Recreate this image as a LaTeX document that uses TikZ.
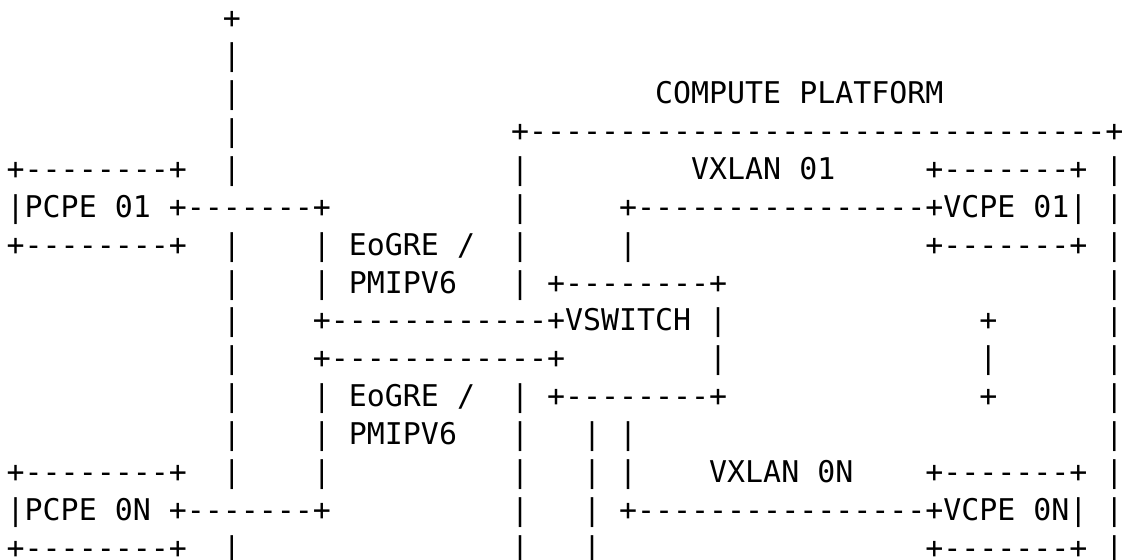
\documentclass[tikz,border=0pt]{standalone}
\usepackage{fontspec}
\setmonofont{DejaVu Sans Mono}
\usepackage{tikz}

\tikzset{
  ascii/.style={anchor=base west, inner sep=0pt, outer sep=0pt,
    font=\ttfamily\fontsize{14.96pt}{18.93pt}\selectfont}
}

\begin{document}
\begin{tikzpicture}[x=9.006pt, y=-18.93pt]
\fill[white] (-0.372,-0.74) rectangle (62.25,14.025);
\useasboundingbox (-0.372,-0.74) rectangle (62.25,14.025);

    % Uplink line
    \node[ascii] (up0) at (12,0) {+};
    \node[ascii] (up1) at (12,1) {|};
    \node[ascii] (up2) at (12,2) {|};
    \node[ascii] (up3) at (12,3) {|};
    \node[ascii] (up4) at (12,4) {|};
    \node[ascii] (up6) at (12,6) {|};
    \node[ascii] (up7) at (12,7) {|};
    \node[ascii] (up8) at (12,8) {|};
    \node[ascii] (up9) at (12,9) {|};
    \node[ascii] (up10) at (12,10) {|};
    \node[ascii] (up11) at (12,11) {|};
    \node[ascii] (up12) at (12,12) {|};
    \node[ascii] (up14) at (12,14) {|};

    % PCPE 01
    \node[ascii] (pcpe1top) at (0,4) {+--------+};
    \node[ascii] (pcpe1) at (0,5) {|PCPE 01 +-------+};
    \node[ascii] (pcpe1bot) at (0,6) {+--------+};

    % PCPE 0N
    \node[ascii] (pcpeNtop) at (0,12) {+--------+};
    \node[ascii] (pcpeN) at (0,13) {|PCPE 0N +-------+};
    \node[ascii] (pcpeNbot) at (0,14) {+--------+};

    % Tunnels to the vswitch
    \node[ascii] (gre1a) at (17,6) {| EoGRE /};
    \node[ascii] (gre1b) at (17,7) {| PMIPV6};
    \node[ascii] (gre1c) at (17,8) {+------------+VSWITCH |};
    \node[ascii] (gre2a) at (17,9) {+------------+};
    \node[ascii] (gre2b) at (17,10) {| EoGRE /};
    \node[ascii] (gre2c) at (17,11) {| PMIPV6};
    \node[ascii] (gre2d) at (17,12) {|};

    % Compute platform frame
    \node[ascii] (cplabel) at (36,2) {COMPUTE PLATFORM};
    \node[ascii] (cptop) at (28,3) {+--------------------------------+};
    \node[ascii] (cpl4) at (28,4) {|};
    \node[ascii] (cpl5) at (28,5) {|};
    \node[ascii] (cpl6) at (28,6) {|};
    \node[ascii] (cpl11) at (28,11) {|};
    \node[ascii] (cpl12) at (28,12) {|};
    \node[ascii] (cpl13) at (28,13) {|};
    \node[ascii] (cpl14) at (28,14) {|};
    \node[ascii] (cpr4) at (61,4) {|};
    \node[ascii] (cpr5) at (61,5) {|};
    \node[ascii] (cpr6) at (61,6) {|};
    \node[ascii] (cpr7) at (61,7) {|};
    \node[ascii] (cpr8) at (61,8) {|};
    \node[ascii] (cpr9) at (61,9) {|};
    \node[ascii] (cpr10) at (61,10) {|};
    \node[ascii] (cpr11) at (61,11) {|};
    \node[ascii] (cpr12) at (61,12) {|};
    \node[ascii] (cpr13) at (61,13) {|};
    \node[ascii] (cpr14) at (61,14) {|};

    % VSWITCH
    \node[ascii] (vsw1) at (28,7) {| +--------+};
    \node[ascii] (vsw2) at (39,9) {|};
    \node[ascii] (vsw3) at (28,10) {| +--------+};

    % VXLAN 01
    \node[ascii] (vx1label) at (38,4) {VXLAN 01};
    \node[ascii] (vcpe1top) at (51,4) {+-------+};
    \node[ascii] (vx1) at (34,5) {+----------------+VCPE 01|};
    \node[ascii] (vx1drop) at (34,6) {|};
    \node[ascii] (vcpe1bot) at (51,6) {+-------+};

    % VXLAN 0N
    \node[ascii] (vxNa) at (32,11) {| |};
    \node[ascii] (vxNb) at (32,12) {| |};
    \node[ascii] (vxNlabel) at (39,12) {VXLAN 0N};
    \node[ascii] (vcpeNtop) at (51,12) {+-------+};
    \node[ascii] (vxN) at (32,13) {| +----------------+VCPE 0N|};
    \node[ascii] (vxNd) at (32,14) {|};
    \node[ascii] (vcpeNbot) at (51,14) {+-------+};

    % Gap between the VCPEs
    \node[ascii] (gap1) at (54,8) {+};
    \node[ascii] (gap2) at (54,9) {|};
    \node[ascii] (gap3) at (54,10) {+};

\end{tikzpicture}
\end{document}
